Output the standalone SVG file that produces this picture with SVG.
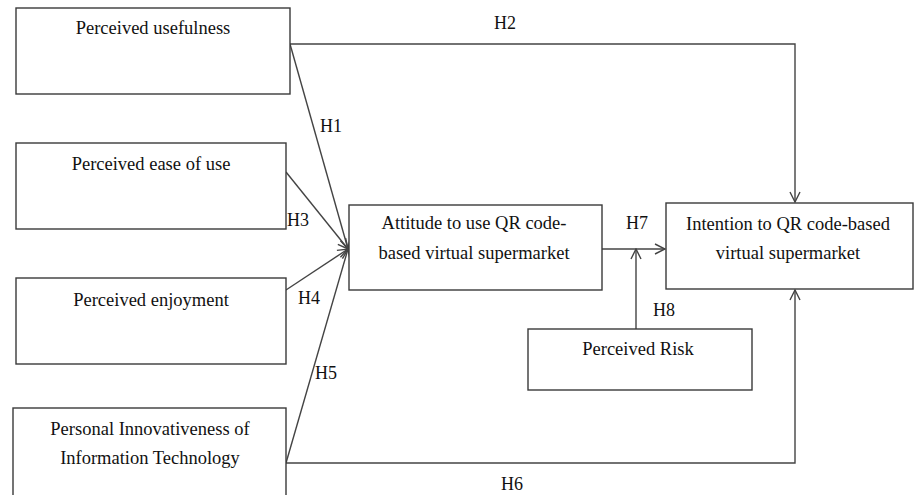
<svg xmlns="http://www.w3.org/2000/svg" width="915" height="495" viewBox="0 0 915 495">
<style>
.box{fill:#fff;stroke:#3a3a3a;stroke-width:1.4}
.t{font-family:"Liberation Serif","Times New Roman",serif;font-size:18.5px;fill:#111;text-anchor:middle}
.l{font-family:"Liberation Serif","Times New Roman",serif;font-size:18px;fill:#111}
.c{fill:none;stroke:#444;stroke-width:1.4}
</style>
<defs>
<marker id="a" viewBox="0 0 12 12" refX="11" refY="6" markerWidth="12" markerHeight="12" markerUnits="userSpaceOnUse" orient="auto">
<polyline points="1,1 11,6 1,11" fill="none" stroke="#444" stroke-width="1.4"/>
</marker>
</defs>
<rect width="915" height="495" fill="#fff"/>
<g id="connectors">
<polyline class="c" points="290,44 795,44 795,202" marker-end="url(#a)"/>
<line class="c" x1="290" y1="44" x2="348" y2="249" marker-end="url(#a)"/>
<line class="c" x1="286" y1="172" x2="348" y2="249" marker-end="url(#a)"/>
<line class="c" x1="286" y1="290" x2="348" y2="249" marker-end="url(#a)"/>
<line class="c" x1="286" y1="463" x2="348" y2="249" marker-end="url(#a)"/>
<polyline class="c" points="286,463 795,463 795,290" marker-end="url(#a)"/>
<line class="c" x1="602" y1="249" x2="665" y2="249" marker-end="url(#a)"/>
<line class="c" x1="636" y1="329" x2="636" y2="249" marker-end="url(#a)"/>
<text class="l" x="494" y="29">H2</text>
<text class="l" x="320" y="132">H1</text>
<text class="l" x="287" y="226">H3</text>
<text class="l" x="298" y="304">H4</text>
<text class="l" x="315" y="379">H5</text>
<text class="l" x="501" y="490">H6</text>
<text class="l" x="626" y="229">H7</text>
<text class="l" x="653" y="316">H8</text>
</g>
<g id="pu"><rect class="box" x="16" y="8" width="274" height="86"/><text class="t" x="153" y="34">Perceived usefulness</text></g>
<g id="peou"><rect class="box" x="16" y="143" width="270" height="86"/><text class="t" x="151" y="170">Perceived ease of use</text></g>
<g id="pe"><rect class="box" x="16" y="278" width="270" height="86"/><text class="t" x="151" y="306">Perceived enjoyment</text></g>
<g id="piit"><rect class="box" x="13" y="408" width="273" height="90"/><text class="t" x="150" y="435">Personal Innovativeness of</text><text class="t" x="150" y="464">Information Technology</text></g>
<g id="att"><rect class="box" x="349" y="205" width="253" height="85"/><text class="t" x="474" y="229">Attitude to use QR code-</text><text class="t" x="474" y="259">based virtual supermarket</text></g>
<g id="int"><rect class="box" x="666" y="203" width="247" height="86"/><text class="t" x="788" y="230">Intention to QR code-based</text><text class="t" x="788" y="259">virtual supermarket</text></g>
<g id="risk"><rect class="box" x="528" y="329" width="224" height="61"/><text class="t" x="638" y="355">Perceived Risk</text></g>
</svg>
